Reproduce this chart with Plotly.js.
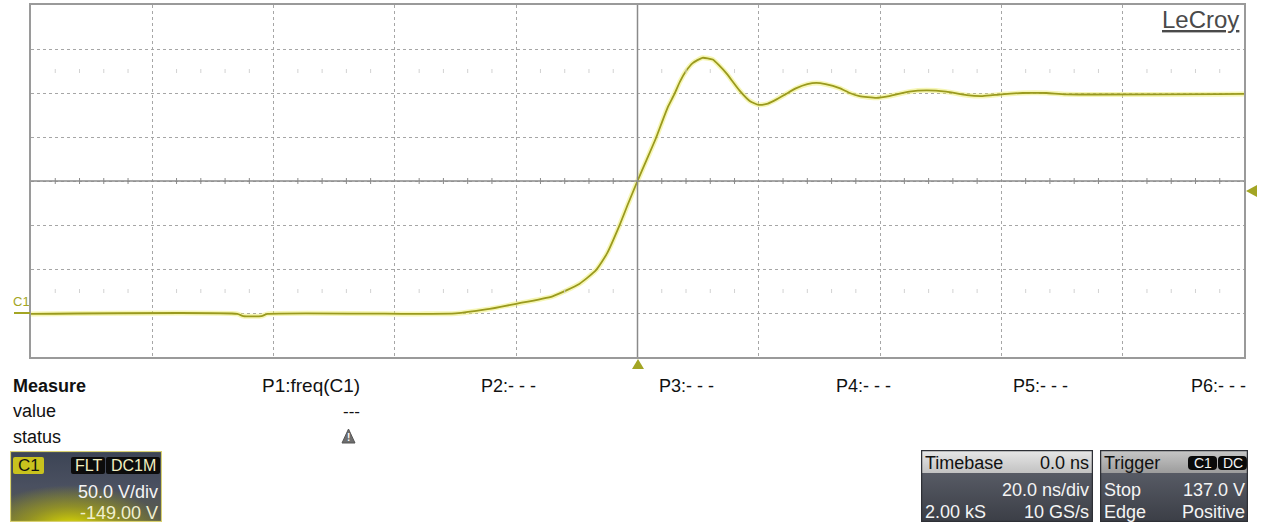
<!DOCTYPE html>
<html>
<head>
<meta charset="utf-8">
<script src="https://cdn.plot.ly/plotly-3.0.1.min.js"></script>
<style>
html,body{margin:0;padding:0;background:#fff;}
#chart{width:1263px;height:527px;}
</style>
</head>
<body>
<div id="chart"></div>
<script>
// ---- data (time in ns, voltage in V) ----
const timeNs = [-100, -66, -65, -62, -61, -36, -30, -25, -20, -14, -9.6, -6.8, -5, -3, -1.5, 0, 1.5, 3, 4.1, 5, 6.1, 7, 8, 9.1, 10.7, 12.4, 13.5, 14.7, 16.8, 18.5, 20, 21.5, 23, 24.5, 26.2, 28, 29.5, 31, 33.3, 35, 36.6, 39.4, 41.5, 44.8, 47.6, 50.9, 54.3, 56.9, 60, 63.5, 67.4, 70.7, 100];
const voltsC1 = [-2, -2, -4.5, -4.5, -2, -2, -1.5, 3, 9.5, 18, 32, 48, 67, 98, 124, 149, 173, 197, 217, 233, 248, 262, 274, 283, 289, 287, 280, 271, 252, 240, 235.5, 237, 242, 248, 254.5, 259, 260.5, 259, 254.5, 249, 245.5, 243.5, 245.5, 250.5, 252, 250.5, 246.5, 245.5, 247.5, 249, 249, 247.5, 248];

const voltsPerDiv = 50.0;
const offsetV = -149.00;
const nsPerDiv = 20.0;
const triggerLevel = 137.0;
const measureLabels = ["P1:freq(C1)", "P2:- - -", "P3:- - -", "P4:- - -", "P5:- - -", "P6:- - -"];
const measureRows = ["value", "status"];

// ---- geometry helpers (pixel -> paper) ----
const L = 31, R = 1244, T = 5, B = 357;
const px = x => (x - L) / (R - L);
const py = y => (B - y) / (B - T);
const P = (x, y) => px(x) + ',' + py(y);

const yCenter = -offsetV;
const yMin = yCenter - 4 * voltsPerDiv, yMax = yCenter + 4 * voltsPerDiv;
const xMin = -5 * nsPerDiv, xMax = 5 * nsPerDiv;
const vPerPx = voltsPerDiv / 44;

const olive = '#a3a524';
const shapes = [];
// center lines
shapes.push({type:'line', xref:'x', yref:'y', x0:xMin, x1:xMax, y0:yCenter, y1:yCenter, line:{color:'#8a8a8a', width:1.5}});
shapes.push({type:'line', xref:'x', yref:'y', x0:0, x1:0, y0:yMin, y1:yMax, line:{color:'#8a8a8a', width:1.5}});
// minor ticks on center horizontal line and faint rows
for (let k = 1; k < 50; k++) {
  const t = xMin + k * nsPerDiv / 5;
  if (k % 5 === 0) continue;
  shapes.push({type:'line', xref:'x', yref:'y', x0:t, x1:t, y0:yCenter - 3 * vPerPx, y1:yCenter + 3 * vPerPx, line:{color:'#8a8a8a', width:1}});
  [yCenter + 2.5 * voltsPerDiv, yCenter - 2.5 * voltsPerDiv].forEach(v => {
    shapes.push({type:'line', xref:'x', yref:'y', x0:t, x1:t, y0:v - 2 * vPerPx, y1:v + 2 * vPerPx, line:{color:'#d2d2d2', width:1}});
  });
}
// trigger markers
shapes.push({type:'path', xref:'paper', yref:'paper', path:'M' + P(632, 369) + ' L' + P(644, 369) + ' L' + P(638, 359) + ' Z', fillcolor:olive, line:{width:0}});
shapes.push({type:'path', xref:'paper', yref:'paper', path:'M' + P(1246, 191) + ' L' + P(1257, 185) + ' L' + P(1257, 197) + ' Z', fillcolor:olive, line:{width:0}});
// C1 ground marker
shapes.push({type:'line', xref:'paper', yref:'paper', x0:px(14), x1:px(30), y0:py(313), y1:py(313), line:{color:olive, width:2}});
// warning icon
shapes.push({type:'path', xref:'paper', yref:'paper', path:'M' + P(342, 443) + ' L' + P(355, 443) + ' L' + P(348.5, 429) + ' Z', fillcolor:'#6e6e6e', line:{color:'#555', width:1}});

// ---- box backgrounds as svg images ----
function svgURI(s){ return 'data:image/svg+xml;charset=utf-8,' + encodeURIComponent(s); }
const c1Svg = "<svg xmlns='http://www.w3.org/2000/svg' width='152' height='71' viewBox='0 0 152 71' preserveAspectRatio='none'>" +
 "<defs><linearGradient id='g' x1='0' y1='0' x2='0' y2='1'><stop offset='0' stop-color='#3c4455'/><stop offset='0.5' stop-color='#4a5060'/><stop offset='1' stop-color='#5e5f48'/></linearGradient>" +
 "<radialGradient id='r' cx='0.4' cy='1.08' r='0.6'><stop offset='0' stop-color='#e6e400' stop-opacity='1'/><stop offset='0.5' stop-color='#c8c400' stop-opacity='0.5'/><stop offset='1' stop-color='#c8c400' stop-opacity='0'/></radialGradient></defs>" +
 "<rect width='152' height='71' fill='url(#g)'/><rect width='152' height='71' fill='url(#r)'/>" +
 "<rect x='0.5' y='0.5' width='151' height='70' fill='none' stroke='#d8d070' stroke-width='1.2'/>" +
 "<rect x='3' y='6' width='31' height='17' rx='2' fill='#c8c21e'/>" +
 "<rect x='61' y='6' width='34' height='17' rx='2' fill='#0c0c0c'/><rect x='96' y='6' width='54' height='17' rx='2' fill='#0c0c0c'/>" +
 "</svg>";
const tbSvg = "<svg xmlns='http://www.w3.org/2000/svg' width='172' height='72' viewBox='0 0 172 72' preserveAspectRatio='none'>" +
 "<defs><linearGradient id='h' x1='0' y1='0' x2='0' y2='1'><stop offset='0' stop-color='#e6e6e6'/><stop offset='1' stop-color='#c2c2c2'/></linearGradient>" +
 "<linearGradient id='b' x1='0' y1='0' x2='0' y2='1'><stop offset='0' stop-color='#646873'/><stop offset='1' stop-color='#3b3e46'/></linearGradient></defs>" +
 "<rect width='172' height='72' fill='url(#b)'/><rect x='1' y='1' width='170' height='22' fill='url(#h)'/>" +
 "<rect x='0.5' y='0.5' width='171' height='71' fill='none' stroke='#2e3036' stroke-width='1.5'/></svg>";
const trSvg = "<svg xmlns='http://www.w3.org/2000/svg' width='148' height='72' viewBox='0 0 148 72' preserveAspectRatio='none'>" +
 "<defs><linearGradient id='h' x1='0' y1='0' x2='0' y2='1'><stop offset='0' stop-color='#c6c6c6'/><stop offset='1' stop-color='#9c9c9c'/></linearGradient>" +
 "<linearGradient id='b' x1='0' y1='0' x2='0' y2='1'><stop offset='0' stop-color='#646873'/><stop offset='1' stop-color='#3b3e46'/></linearGradient></defs>" +
 "<rect width='148' height='72' fill='url(#b)'/><rect x='1' y='1' width='146' height='22' fill='url(#h)'/>" +
 "<rect x='88' y='6' width='29' height='14' rx='4' fill='#0a0a0a'/><rect x='118' y='6' width='29' height='14' rx='4' fill='#0a0a0a'/>" +
 "<rect x='0.5' y='0.5' width='147' height='71' fill='none' stroke='#2e3036' stroke-width='1.5'/></svg>";
function img(src, x0, y0, x1, y1){
  return {source:svgURI(src), xref:'paper', yref:'paper', x:px(x0), y:py(y0), sizex:(x1-x0)/(R-L), sizey:(y1-y0)/(B-T), xanchor:'left', yanchor:'top', sizing:'stretch', layer:'above'};
}
const images = [img(c1Svg, 10, 451, 162, 522), img(tbSvg, 921, 450, 1093, 522), img(trSvg, 1100, 450, 1248, 522)];

// ---- annotations ----
const F = 'Liberation Sans, Arial, sans-serif';
const ann = [];
function txt(s, x, y, anchor, size, color){
  ann.push({text:s, xref:'paper', yref:'paper', x:px(x), y:py(y), xanchor:anchor, yanchor:'middle', showarrow:false, font:{family:F, size:size, color:color}});
}
txt('<u>LeCroy</u>', 1241, 20, 'right', 24, '#4a4a4a');
txt('C1', 11, 301, 'left', 13, olive);
txt('<b>Measure</b>', 11, 386, 'left', 18, '#111');
txt(measureRows[0], 11, 411, 'left', 18, '#111');
txt(measureRows[1], 11, 437, 'left', 18, '#111');
const mx = [362, 538, 716, 893, 1070, 1248];
measureLabels.forEach((s, i) => txt(s, mx[i], 386, 'right', i === 0 ? 19 : 18, '#111'));
txt('---', 362, 411, 'right', 17, '#111');
txt('<b>!</b>', 348.5, 438, 'center', 10, '#ffffff');
// C1 box
txt('C1', 28.5, 465, 'center', 17, '#111');
txt('FLT', 88, 465, 'center', 16, '#f2efc0');
txt('DC1M', 133, 465, 'center', 16, '#f2efc0');
txt(voltsPerDiv.toFixed(1) + ' V/div', 160, 492, 'right', 18, '#f4f4f4');
txt(offsetV.toFixed(2) + ' V', 160, 513, 'right', 18, '#f0efd0');
// timebase
txt('Timebase', 923, 463, 'left', 18, '#111');
txt('0.0 ns', 1091, 463, 'right', 18, '#111');
txt(nsPerDiv.toFixed(1) + ' ns/div', 1091, 490, 'right', 18, '#f4f4f4');
txt('2.00 kS', 923, 512, 'left', 18, '#f4f4f4');
txt('10 GS/s', 1091, 512, 'right', 18, '#f4f4f4');
// trigger
txt('Trigger', 1102, 463, 'left', 18, '#111');
txt('C1', 1202.5, 463, 'center', 14, '#f4f4f4');
txt('DC', 1232.5, 463, 'center', 14, '#f4f4f4');
txt('Stop', 1102, 490, 'left', 18, '#f4f4f4');
txt(triggerLevel.toFixed(1) + ' V', 1247, 490, 'right', 18, '#f4f4f4');
txt('Edge', 1102, 512, 'left', 18, '#f4f4f4');
txt('Positive', 1247, 512, 'right', 18, '#f4f4f4');

const traces = [
  {x: timeNs, y: voltsC1, type:'scatter', mode:'lines', line:{color:'rgba(235,235,90,0.45)', width:5, shape:'spline', smoothing:0.5}, hoverinfo:'skip'},
  {x: timeNs, y: voltsC1, type:'scatter', mode:'lines', line:{color:'#9a9a1e', width:1.8, shape:'spline', smoothing:0.5}}
];

const axisCommon = {showticklabels:false, ticks:'', zeroline:false, showline:true, mirror:true, linecolor:'#9a9a9a', linewidth:2, showgrid:true, gridcolor:'#a6a6a6', griddash:'dot', gridwidth:1, fixedrange:true};
const layout = {
  width:1263, height:527,
  margin:{l:L, r:1263 - R, t:T, b:527 - B, pad:0},
  paper_bgcolor:'#ffffff', plot_bgcolor:'#ffffff',
  showlegend:false,
  xaxis:Object.assign({range:[xMin, xMax], tick0:xMin, dtick:nsPerDiv}, axisCommon),
  yaxis:Object.assign({range:[yMin, yMax], tick0:yMin, dtick:voltsPerDiv}, axisCommon),
  shapes:shapes, images:images, annotations:ann
};
Plotly.newPlot('chart', traces, layout, {displayModeBar:false, staticPlot:true});
</script>
</body>
</html>
